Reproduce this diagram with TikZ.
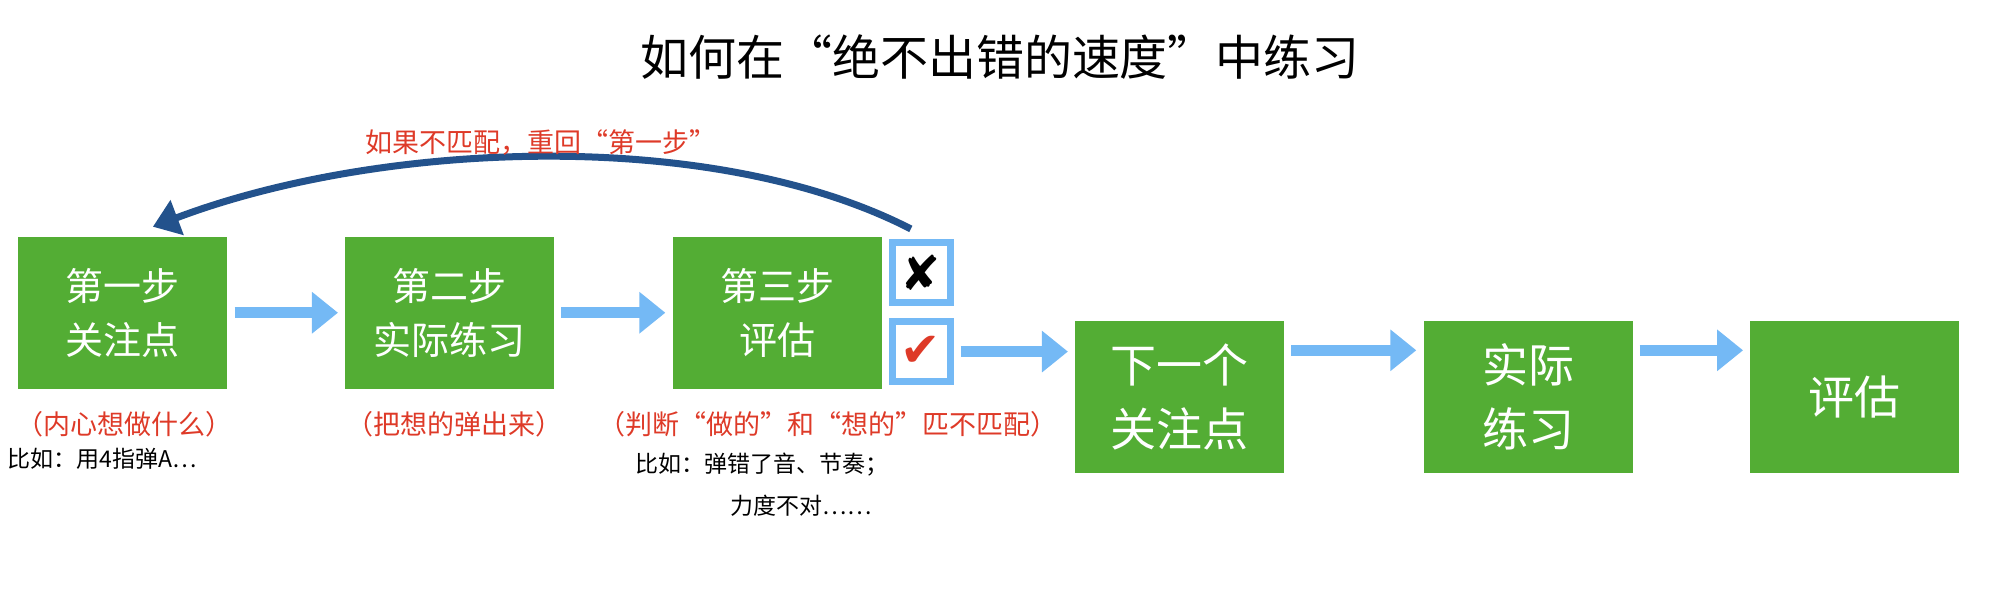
\documentclass[tikz,border=0pt]{standalone}
\usepackage{fontspec}
\setmainfont{Noto Sans CJK SC}
\newfontfamily\symf{DejaVu Sans}
\usetikzlibrary{arrows.meta}
\definecolor{gbox}{RGB}{83,173,52}
\definecolor{lblue}{RGB}{116,185,245}
\definecolor{dblue}{RGB}{35,82,140}
\definecolor{rtext}{RGB}{222,58,40}
\tikzset{
 gb/.style={fill=gbox,text=white,minimum width=209pt,minimum height=152pt,inner sep=0pt,align=center,font=\fontsize{38}{54}\selectfont},
 gbig/.style={gb,font=\fontsize{46}{64}\selectfont},
 flow/.style={lblue,line width=11pt,-{Triangle[length=26pt,width=40pt]},shorten <=7pt,shorten >=7pt},
 cbox/.style={draw=lblue,line width=7pt,fill=white,minimum width=58pt,minimum height=60pt,inner sep=0pt},
 red/.style={text=rtext,font=\fontsize{27}{32}\selectfont},
 blk/.style={font=\fontsize{23}{28}\selectfont}
}
\begin{document}
\begin{tikzpicture}[x=1.274pt,y=-1.274pt]
\useasboundingbox (0,0) rectangle (1570,471);
\node[font=\fontsize{48}{56}\selectfont] (title) at (785,45) {如何在“绝不出错的速度”中练习};
\node[gb] (b1) at (96.5,245.5) {第一步\\关注点};
\node[gb] (b2) at (353,245.5) {第二步\\实际练习};
\node[gb] (b3) at (610,245.5) {第三步\\评估};
\node[cbox] (cx) at (723,214) {\symf\fontsize{48}{48}\selectfont ✘};
\node[cbox] (cv) at (723,276) {\symf\fontsize{48}{48}\selectfont\color{rtext} ✔};
\node[gbig] (b4) at (926,311.5) {下一个\\关注点};
\node[gbig] (b5) at (1199.5,311.5) {实际\\练习};
\node[gbig] (b6) at (1456,311.5) {评估};
\coordinate (ya) at (0,275);
\draw[flow] (b1.east) -- (b2.west);
\draw[flow] (b2.east) -- (b3.west);
\draw[flow] (cv.east) -- (b4.west |- cv.east);
\draw[flow] (b4.east |- ya) -- (b5.west |- ya);
\draw[flow] (b5.east |- ya) -- (b6.west |- ya);
\coordinate (ae) at (120,178);
\draw[dblue,line width=7pt,-{Triangle[length=26pt,width=36pt]}] (cx.north) ++(-8,-8) .. controls (560,100) and (300,110) .. (ae);
\node[red] (lr) at (425,112) {如果不匹配，重回“第一步”};
\node[red] (l1) at (98,333) {（内心想做什么）};
\node[red] (l2) at (357,333) {（把想的弹出来）};
\node[red] (l3) at (650,333) {（判断“做的”和“想的”匹不匹配）};
\node[blk,anchor=west] (t1) at (3,360) {比如：用4指弹A⋯};
\node[blk,anchor=west] (t2) at (496,365) {比如：弹错了音、节奏；};
\node[blk,anchor=west] (t3) at (571,397) {力度不对⋯⋯};
\end{tikzpicture}
\end{document}
